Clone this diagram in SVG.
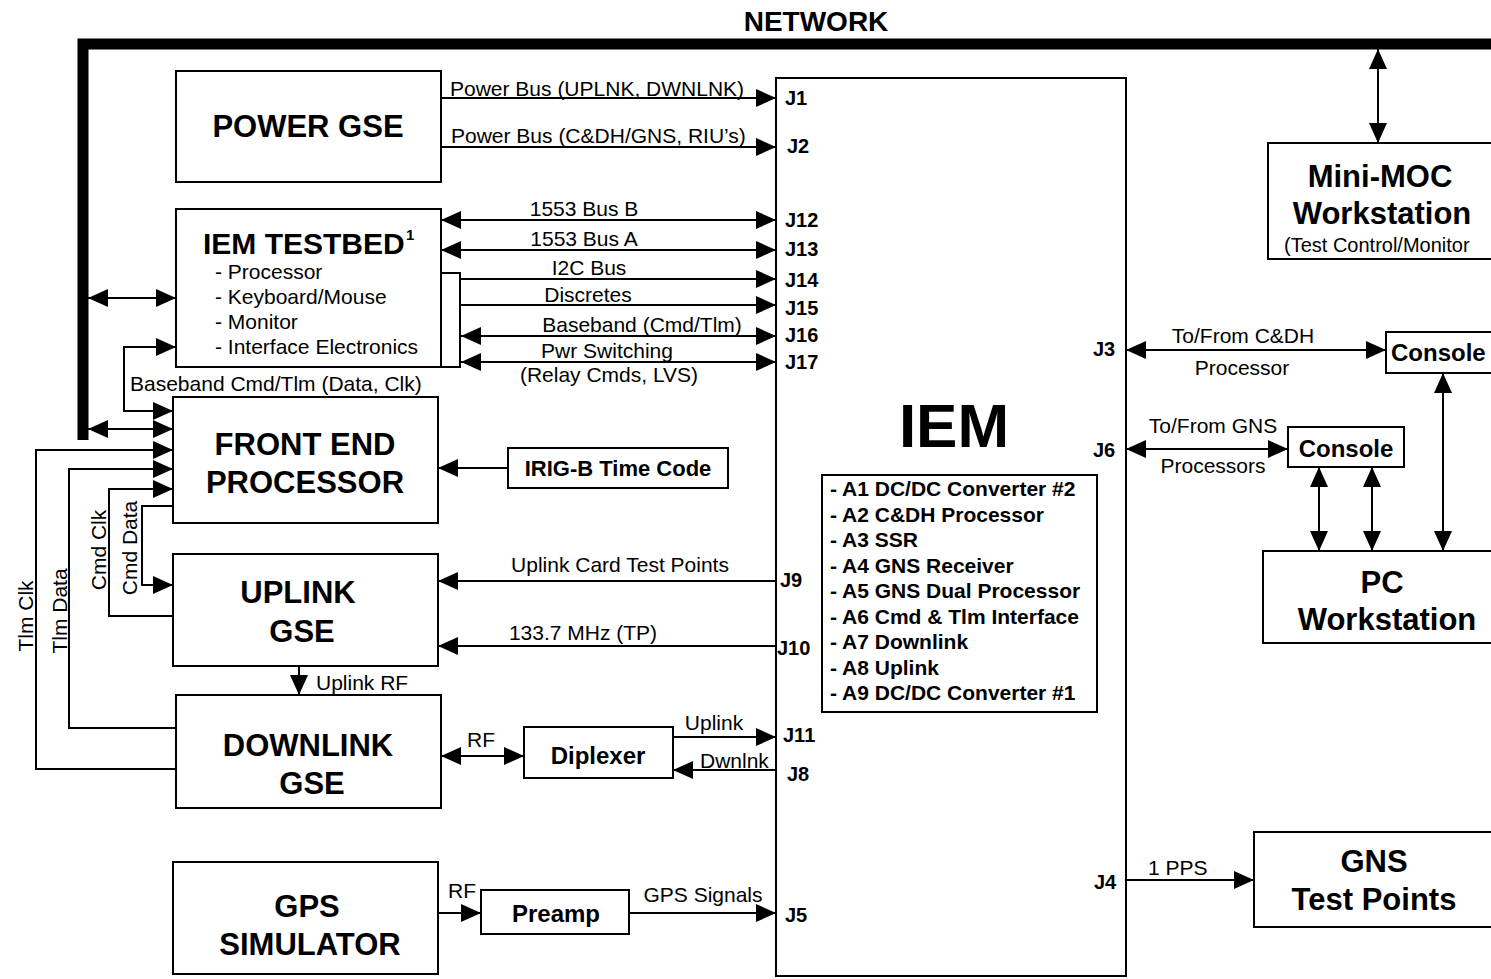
<svg xmlns="http://www.w3.org/2000/svg" width="1491" height="979" viewBox="0 0 1491 979">
<defs>
<marker id="ah" viewBox="0 0 20 18" refX="20" refY="9" markerWidth="20" markerHeight="18" markerUnits="userSpaceOnUse" orient="auto-start-reverse"><path d="M0,0 L20,9 L0,18 z" fill="#000"/></marker>
<style>
.box{fill:#fff;stroke:#000;stroke-width:2}
.ln{fill:none;stroke:#000;stroke-width:2}
.e{marker-end:url(#ah)}
.b{marker-start:url(#ah);marker-end:url(#ah)}
.s{marker-start:url(#ah)}
text{font-family:"Liberation Sans",Arial,Helvetica,sans-serif;fill:#000}
.t{font-size:21px}
.tc{font-size:21px;text-anchor:middle}
.h{font-size:31px;font-weight:bold;text-anchor:middle}
.j{font-size:20px;font-weight:bold}
.m{font-size:24px;font-weight:bold;text-anchor:middle}
.li{font-size:21px;font-weight:bold}
</style>
</defs>
<rect width="1491" height="979" fill="#fff"/>

<g id="network">
<path d="M83,440 V44 H1491" fill="none" stroke="#000" stroke-width="11" stroke-linejoin="miter"/>
<text x="816" y="31" font-size="28" font-weight="bold" text-anchor="middle">NETWORK</text>
</g>

<g id="power-gse"><rect class="box" x="176" y="71" width="265" height="111"/><text class="h" x="308" y="137">POWER GSE</text></g>

<g id="iem-testbed">
<rect class="box" x="176" y="209" width="265" height="158"/>
<rect class="box" x="441" y="273" width="19" height="94"/>
<text x="203" y="254" font-size="30" font-weight="bold">IEM TESTBED</text>
<text x="406" y="240" font-size="15" font-weight="bold">1</text>
<text class="t" x="215" y="279">- Processor</text>
<text class="t" x="215" y="304">- Keyboard/Mouse</text>
<text class="t" x="215" y="329">- Monitor</text>
<text class="t" x="215" y="354">- Interface Electronics</text>
</g>

<g id="front-end-processor"><rect class="box" x="173" y="397" width="265" height="126"/><text class="h" x="305" y="455">FRONT END</text><text class="h" x="305" y="493">PROCESSOR</text></g>

<g id="uplink-gse"><rect class="box" x="173" y="554" width="265" height="112"/><text class="h" x="298" y="603">UPLINK</text><text class="h" x="302" y="642">GSE</text></g>

<g id="downlink-gse"><rect class="box" x="176" y="695" width="265" height="113"/><text class="h" x="308" y="756">DOWNLINK</text><text class="h" x="312" y="794">GSE</text></g>

<g id="gps-simulator"><rect class="box" x="173" y="862" width="265" height="112"/><text class="h" x="307" y="917">GPS</text><text class="h" x="310" y="955">SIMULATOR</text></g>

<g id="irig-b"><rect class="box" x="508" y="448" width="220" height="40"/><text x="618" y="476" font-size="22" font-weight="bold" text-anchor="middle">IRIG-B Time Code</text></g>

<g id="diplexer"><rect class="box" x="524" y="727" width="149" height="51"/><text class="m" x="598" y="764">Diplexer</text></g>

<g id="preamp"><rect class="box" x="481" y="890" width="148" height="44"/><text class="m" x="556" y="922">Preamp</text></g>

<g id="iem">
<rect class="box" x="776" y="78" width="350" height="898"/>
<text x="954" y="447" font-size="62" font-weight="bold" text-anchor="middle">IEM</text>
<rect class="box" x="822" y="475" width="275" height="237"/>
<text class="li" x="830" y="496">- A1 DC/DC Converter #2</text>
<text class="li" x="830" y="522">- A2 C&amp;DH Processor</text>
<text class="li" x="830" y="547">- A3 SSR</text>
<text class="li" x="830" y="573">- A4 GNS Receiver</text>
<text class="li" x="830" y="598">- A5 GNS Dual Processor</text>
<text class="li" x="830" y="624">- A6 Cmd &amp; Tlm Interface</text>
<text class="li" x="830" y="649">- A7 Downlink</text>
<text class="li" x="830" y="675">- A8 Uplink</text>
<text class="li" x="830" y="700">- A9 DC/DC Converter #1</text>
<text class="j" x="785" y="105">J1</text>
<text class="j" x="787" y="153">J2</text>
<text class="j" x="785" y="227">J12</text>
<text class="j" x="785" y="256">J13</text>
<text class="j" x="785" y="287">J14</text>
<text class="j" x="785" y="315">J15</text>
<text class="j" x="785" y="342">J16</text>
<text class="j" x="785" y="369">J17</text>
<text class="j" x="780" y="587">J9</text>
<text class="j" x="777" y="655">J10</text>
<text class="j" x="783" y="742">J11</text>
<text class="j" x="787" y="781">J8</text>
<text class="j" x="785" y="922">J5</text>
<text class="j" x="1093" y="356">J3</text>
<text class="j" x="1093" y="457">J6</text>
<text class="j" x="1094" y="889">J4</text>
</g>

<g id="mini-moc"><rect class="box" x="1268" y="143" width="230" height="116"/><text class="h" x="1380" y="187">Mini-MOC</text><text class="h" x="1382" y="224">Workstation</text><text x="1284" y="252" font-size="20">(Test Control/Monitor</text></g>

<g id="console-cdh"><rect class="box" x="1386" y="332" width="110" height="41"/><text x="1391" y="361" font-size="24" font-weight="bold">Console</text></g>

<g id="console-gns"><rect class="box" x="1288" y="427" width="116" height="40"/><text class="m" x="1346" y="457">Console</text></g>

<g id="pc-workstation"><rect class="box" x="1263" y="551" width="235" height="92"/><text class="h" x="1382" y="593">PC</text><text class="h" x="1387" y="630">Workstation</text></g>

<g id="gns-test-points"><rect class="box" x="1254" y="832" width="245" height="95"/><text class="h" x="1374" y="872">GNS</text><text class="h" x="1374" y="910">Test Points</text></g>

<g id="connectors">
<path class="ln b" d="M88,298 H176"/>
<path class="ln b" d="M88,429 H173"/>
<path class="ln b" d="M176,347 H124 V411 H173"/>
<path class="ln s" d="M173,450 H36 V769 H176"/>
<path class="ln s" d="M173,469 H69 V728 H176"/>
<path class="ln s" d="M173,489 H109 V616 H173"/>
<path class="ln e" d="M173,506 H142 V585 H173"/>
<path class="ln e" d="M299,666 V695"/>
<path class="ln e" d="M441,98 H776"/>
<path class="ln e" d="M441,147 H776"/>
<path class="ln b" d="M441,220 H776"/>
<path class="ln b" d="M441,250 H776"/>
<path class="ln e" d="M461,279 H776"/>
<path class="ln e" d="M461,305 H776"/>
<path class="ln b" d="M461,336 H776"/>
<path class="ln b" d="M461,362 H776"/>
<path class="ln e" d="M508,468 H438"/>
<path class="ln e" d="M776,581 H438"/>
<path class="ln e" d="M776,646 H438"/>
<path class="ln b" d="M441,756 H524"/>
<path class="ln e" d="M673,737 H776"/>
<path class="ln e" d="M776,770 H673"/>
<path class="ln e" d="M438,913 H481"/>
<path class="ln e" d="M629,913 H776"/>
<path class="ln b" d="M1378,49 V143"/>
<path class="ln b" d="M1126,350 H1386"/>
<path class="ln b" d="M1126,449 H1288"/>
<path class="ln b" d="M1319,467 V551"/>
<path class="ln b" d="M1372,467 V551"/>
<path class="ln b" d="M1443,373 V551"/>
<path class="ln e" d="M1126,880 H1254"/>

<text class="t" x="450" y="96">Power Bus (UPLNK, DWNLNK)</text>
<text class="t" x="451" y="143">Power Bus (C&amp;DH/GNS, RIU’s)</text>
<text class="tc" x="584" y="216">1553 Bus B</text>
<text class="tc" x="584" y="246">1553 Bus A</text>
<text class="tc" x="589" y="275">I2C Bus</text>
<text class="tc" x="588" y="302">Discretes</text>
<text class="tc" x="642" y="332">Baseband (Cmd/Tlm)</text>
<text class="tc" x="607" y="358">Pwr Switching</text>
<text class="tc" x="609" y="382">(Relay Cmds, LVS)</text>
<text class="t" x="130" y="391">Baseband Cmd/Tlm (Data, Clk)</text>
<text class="t" transform="translate(33,616) rotate(-90)" text-anchor="middle">Tlm Clk</text>
<text class="t" transform="translate(67,611) rotate(-90)" text-anchor="middle">Tlm Data</text>
<text class="t" transform="translate(106,550) rotate(-90)" text-anchor="middle">Cmd Clk</text>
<text class="t" transform="translate(137,548) rotate(-90)" text-anchor="middle">Cmd Data</text>
<text class="t" x="316" y="690">Uplink RF</text>
<text class="tc" x="620" y="572">Uplink Card Test Points</text>
<text class="tc" x="583" y="640">133.7 MHz (TP)</text>
<text class="tc" x="481" y="747">RF</text>
<text class="tc" x="714" y="730">Uplink</text>
<text class="t" x="700" y="768">Dwnlnk</text>
<text class="tc" x="462" y="898">RF</text>
<text class="tc" x="703" y="902">GPS Signals</text>
<text class="tc" x="1243" y="343">To/From C&amp;DH</text>
<text class="tc" x="1242" y="375">Processor</text>
<text class="tc" x="1213" y="433">To/From GNS</text>
<text class="tc" x="1213" y="473">Processors</text>
<text class="t" x="1148" y="875">1 PPS</text>
</g>
</svg>
